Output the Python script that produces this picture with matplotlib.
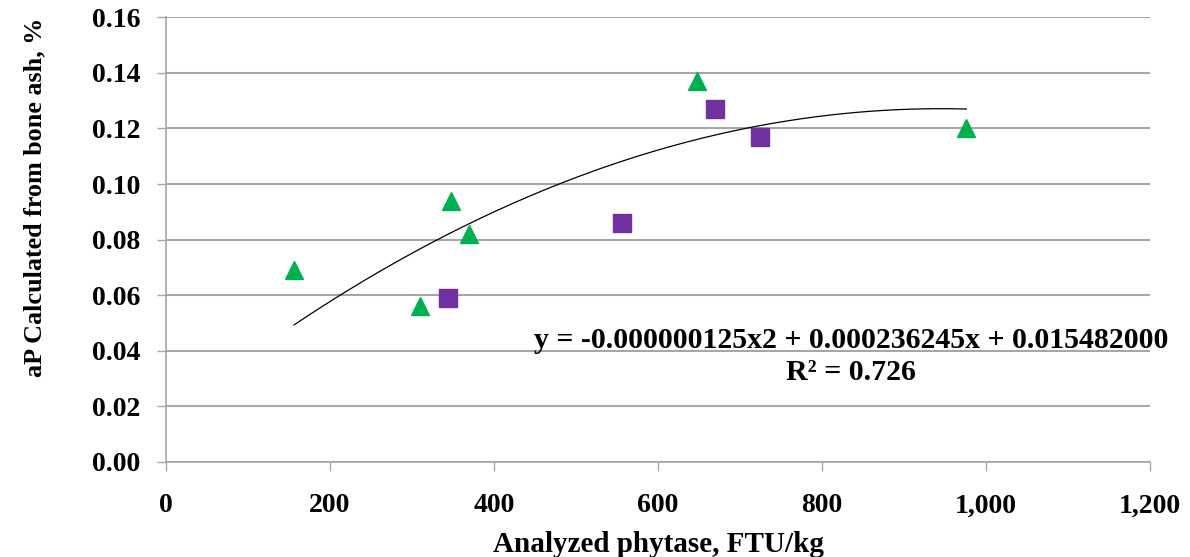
import numpy as np
import matplotlib
matplotlib.use("Agg")
import matplotlib.pyplot as plt
from matplotlib.ticker import FuncFormatter

# green triangles
tri_x = [156, 310, 348, 370, 647, 976]
tri_y = [0.069, 0.056, 0.094, 0.082, 0.137, 0.120]
# purple squares
sq_x = [344, 556, 670, 724]
sq_y = [0.059, 0.086, 0.127, 0.117]

# quadratic trendline as printed on the chart
coef = [-0.000000125, 0.000236245, 0.015482000]
eq_text = "y = -0.000000125x2 + 0.000236245x + 0.015482000"
r2_text = "R\u00b2 = 0.726"

plt.rcParams['font.family'] = ['Liberation Serif', 'DejaVu Serif']
plt.rcParams['font.weight'] = 'bold'

fig = plt.figure(figsize=(11.9, 5.57), dpi=100)
ax = fig.add_axes([0.1395, 0.1706, 0.8269, 0.7984])

grid_c = "#a6a6a6"
ax.set_xlim(0, 1200)
ax.set_ylim(0, 0.16)
ax.set_yticks(np.arange(0, 0.161, 0.02))
ax.set_xticks(np.arange(0, 1201, 200))
ax.yaxis.set_major_formatter(FuncFormatter(lambda v, p: "%.2f" % v))
ax.xaxis.set_major_formatter(FuncFormatter(lambda v, p: "{:,.0f}".format(v)))
ax.grid(axis='y', color=grid_c, linewidth=1.5)
ax.set_axisbelow(True)
for s in ['top', 'right']:
    ax.spines[s].set_visible(False)
for s in ['left', 'bottom']:
    ax.spines[s].set_color(grid_c)
    ax.spines[s].set_linewidth(1.2)
ax.tick_params(axis='both', colors=grid_c, length=6.5, width=1.0, labelcolor='black', labelsize=20)
ax.tick_params(axis='x', pad=16)
ax.tick_params(axis='y', pad=12)

xs = np.linspace(min(tri_x + sq_x), max(tri_x + sq_x), 200)
ax.plot(xs, np.polyval(coef, xs), color='black', linewidth=0.9, zorder=2)

ax.plot(tri_x, tri_y, linestyle='none', marker='^', markersize=13.5,
        color='#00b050', markeredgecolor='#00b050', zorder=3)
ax.plot(sq_x, sq_y, linestyle='none', marker='s', markersize=13,
        color='#7030a0', markeredgecolor='#7030a0', zorder=3)

ax.text(835, 0.0437, eq_text, ha='center', va='center', fontsize=21.5, fontweight='bold')
ax.text(835, 0.0322, r2_text, ha='center', va='center', fontsize=21.5, fontweight='bold')

ax.set_xlabel("Analyzed phytase, FTU/kg", fontsize=21, fontweight='bold', labelpad=9)
ax.set_ylabel("aP Calculated from bone ash, %", fontsize=18.8, fontweight='bold')
ax.yaxis.set_label_coords(-0.122, 0.595)

fig.savefig("out.png", dpi=100)
